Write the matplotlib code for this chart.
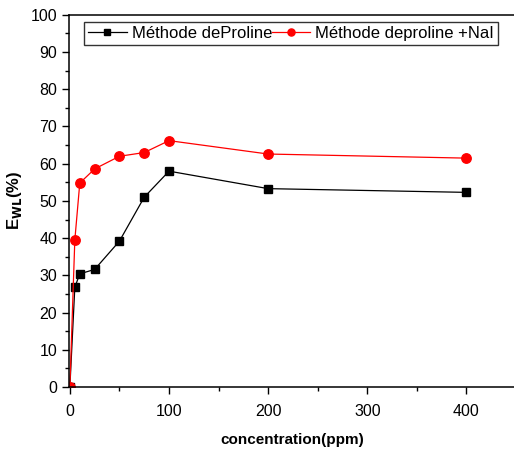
import matplotlib
matplotlib.use("Agg")
import matplotlib.pyplot as plt

plt.rcParams['font.family'] = ['Liberation Sans', 'DejaVu Sans']

conc = [0, 5, 10, 25, 50, 75, 100, 200, 400]
ewl_proline = [0, 26.8, 30.4, 31.6, 39.2, 51.0, 58.0, 53.3, 52.3]
ewl_proline_nai = [0, 39.5, 54.8, 58.6, 62.0, 63.0, 66.2, 62.6, 61.5]

fig = plt.figure(figsize=(5.14, 4.5), dpi=100)
ax = fig.add_axes([0.134, 0.14, 0.87, 0.827])

ax.plot(conc, ewl_proline, color='black', lw=0.9, marker='s', ms=6,
        label='Méthode deProline')
ax.plot(conc, ewl_proline_nai, color='red', lw=0.9, marker='o', ms=6.8,
        label='Méthode deproline +NaI')

ax.set_xlim(-1, 450)
ax.set_ylim(0, 100)
ax.set_xticks([0, 100, 200, 300, 400])
ax.set_xticks([50, 150, 250, 350, 450], minor=True)
ax.set_yticks(range(0, 101, 10))
ax.set_yticks(range(5, 100, 10), minor=True)
ax.tick_params(which='both', direction='out', labelsize=11.5, width=1)
ax.tick_params(axis='x', which='major', pad=7)
ax.tick_params(which='major', length=5)
ax.tick_params(which='minor', length=3)
ax.spines['right'].set_visible(False)
for s in ['left', 'bottom', 'top']:
    ax.spines[s].set_linewidth(1.1)

ax.set_xlabel('concentration(ppm)', fontsize=11, fontweight='bold', labelpad=10)
ax.set_ylabel(r'E$_{\mathbf{WL}}$(%)', fontsize=12, fontweight='bold', labelpad=5)

ax.legend(loc='upper left', bbox_to_anchor=(0.034, 0.981), ncol=2, fontsize=12,
          frameon=True, fancybox=False, edgecolor='black', handlelength=2.3,
          handletextpad=0.3, columnspacing=0.0, borderpad=0.25, borderaxespad=0,
          markerscale=0.75)

fig.savefig('out.png', dpi=100)
